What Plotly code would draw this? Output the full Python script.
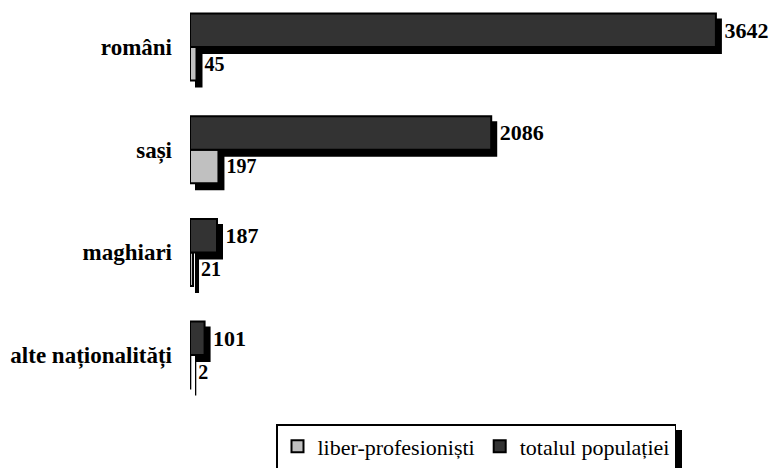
import plotly.graph_objects as go

# ---- data ----
categories = ["alte naționalități", "maghiari", "sași", "români"]
liber_profesionisti = [2, 21, 197, 45]
totalul_populatiei = [101, 187, 2086, 3642]
series_names = ["liber-profesioniști", "totalul populației"]
series_colors = ["#c0c0c0", "#333333"]

# ---- geometry ----
W, H = 771, 468
L, R, T, B = 190, 0, 0, 68
pw = W - L - R
ph = H - T - B
px_per_unit = 0.1444
sx, sy = 5, 6               # shadow offset in px
dx, dy = sx / pw, sy / ph
main_w = 0.97
xmax = main_w * pw / px_per_unit
cat_px = 102.7
top_center = 47
main_h = ph - sy
y_top = (len(categories) - 1) + top_center / cat_px
y_bot = y_top - main_h / cat_px

FONT = "Liberation Serif"

fig = go.Figure()

# shadows (drawn first, on the shifted subplot)
for vals in (liber_profesionisti, totalul_populatiei):
    fig.add_trace(go.Bar(
        y=categories, x=vals, orientation="h",
        marker=dict(color="black", line=dict(color="black", width=2)),
        showlegend=False, hoverinfo="skip",
        xaxis="x", yaxis="y",
    ))

# main bars
for name, vals, col, fs in zip(series_names,
                               (liber_profesionisti, totalul_populatiei),
                               series_colors, (20, 22)):
    fig.add_trace(go.Bar(
        y=categories, x=vals, orientation="h", name=name,
        marker=dict(color=col, line=dict(color="black", width=2)),
        text=[str(v) for v in vals], texttemplate="\u00a0%{text}",
        textposition="outside",
        textfont=dict(family=FONT, size=fs, color="black", weight="bold"),
        cliponaxis=False, constraintext="none",
        xaxis="x2", yaxis="y2",
    ))

# legend box geometry (px) and its drop shadow
leg_w = 401
leg_left = 476.5 - leg_w / 2
leg_right = leg_left + leg_w
leg_top, leg_bottom = 424, 466

fig.add_shape(type="rect", xref="paper", yref="paper",
              x0=(leg_left + sx - L) / pw, x1=(leg_right + sx - L) / pw,
              y0=(ph - (leg_top + sy)) / ph, y1=(ph - (leg_bottom + sy)) / ph,
              fillcolor="black", line=dict(width=0), layer="above")

fig.update_layout(
    template="none",
    width=W, height=H,
    margin=dict(l=L, r=R, t=T, b=B, autoexpand=False),
    paper_bgcolor="white", plot_bgcolor="rgba(0,0,0,0)",
    barmode="group", bargap=0.348, bargroupgap=0,
    font=dict(family=FONT, color="black"),
    xaxis=dict(domain=[dx, main_w + dx], range=[0, xmax], visible=False,
               anchor="y", automargin=False),
    yaxis=dict(domain=[0, 1 - dy], range=[y_bot, y_top], visible=False,
               type="category", categoryorder="array",
               categoryarray=categories, anchor="x", automargin=False),
    xaxis2=dict(domain=[0, main_w], range=[0, xmax], visible=False,
                anchor="y2", automargin=False),
    yaxis2=dict(domain=[dy, 1], range=[y_bot, y_top], type="category",
                categoryorder="array", categoryarray=categories,
                anchor="x2", showline=False, showgrid=False, ticks="",
                zeroline=False, ticklabelstandoff=17, automargin=False,
                tickfont=dict(family=FONT, size=23, color="black",
                              weight="bold")),
    showlegend=True,
    legend=dict(orientation="h", x=(leg_left - L) / pw, xanchor="left",
                y=(ph - leg_top) / ph, yanchor="top",
                bgcolor="white", bordercolor="black", borderwidth=1.5,
                font=dict(family=FONT, size=22, color="black"),
                itemwidth=30, tracegroupgap=0),
)

fig.write_html("out.html", config={"displayModeBar": False},
               post_script="document.body.style.margin='0';"
                           "document.body.style.padding='0';")
